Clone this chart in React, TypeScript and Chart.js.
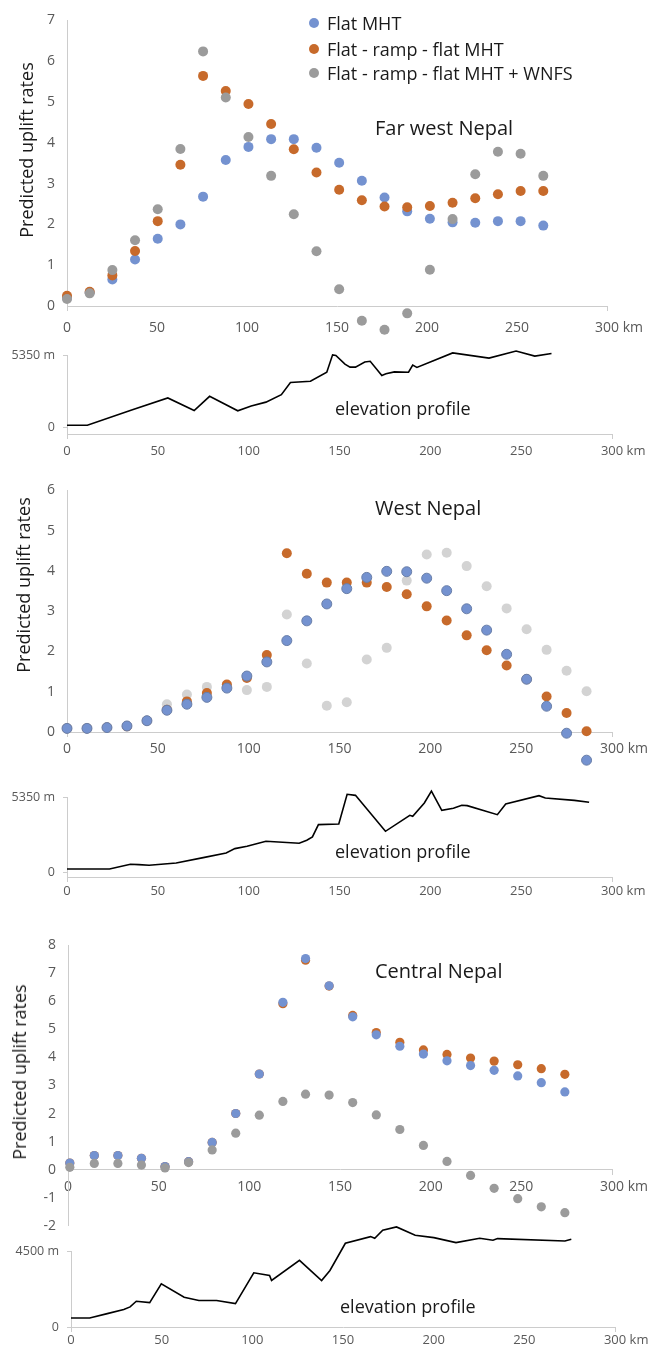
import React, { useEffect, useRef } from "react";
import { Chart, registerables } from "chart.js";

Chart.register(...registerables);

const FONT = "'Open Sans', 'Noto Sans', sans-serif";
Chart.defaults.font.family = FONT;

const BLUE = "#7492d0";
const ORANGE = "#c76a2b";
const GRAY = "#9b9b9b";
const LIGHT_GRAY = "#d3d3d3";
const AXIS = "#cccccc";
const TICK = "#595959";

const seriesNames = ["Flat MHT", "Flat - ramp - flat MHT", "Flat - ramp - flat MHT + WNFS"];

// ---------- Far west Nepal ----------
const farWestKm = [0, 12.6, 25.2, 37.8, 50.4, 63, 75.6, 88.2, 100.8, 113.4, 126, 138.6, 151.2, 163.8, 176.4, 189, 201.6, 214.2, 226.8, 239.4, 252, 264.6];
const farWestFlat = [0.2, 0.33, 0.65, 1.14, 1.65, 2.0, 2.68, 3.58, 3.9, 4.09, 4.09, 3.88, 3.51, 3.07, 2.66, 2.32, 2.14, 2.05, 2.04, 2.08, 2.08, 1.97];
const farWestRamp = [0.25, 0.35, 0.75, 1.35, 2.08, 3.46, 5.64, 5.27, 4.95, 4.46, 3.84, 3.27, 2.85, 2.59, 2.44, 2.42, 2.45, 2.53, 2.64, 2.74, 2.82, 2.82];
const farWestWnfs = [0.17, 0.31, 0.88, 1.61, 2.37, 3.85, 6.24, 5.11, 4.14, 3.19, 2.25, 1.34, 0.41, -0.36, -0.58, -0.18, 0.89, 2.13, 3.23, 3.78, 3.73, 3.19];
const farWestElevKm = [0, 11.2, 36, 55.5, 70, 78.5, 94, 101.4, 109.5, 118, 123, 134, 143, 146.2, 148, 153, 155.8, 158.8, 163.9, 166.9, 173.3, 175.6, 180.2, 188, 190.3, 192.6, 212.3, 232.3, 247.2, 257.5, 266.7];
const farWestElevM = [167, 167, 1314, 2197, 1266, 2317, 1242, 1600, 1887, 2436, 3344, 3439, 4108, 5398, 5350, 4705, 4490, 4490, 4872, 4920, 3869, 3989, 4132, 4108, 4633, 4466, 5541, 5159, 5684, 5302, 5493];

// ---------- West Nepal ----------
const westKm = [0, 11, 22, 33, 44, 55, 66, 77, 88, 99, 110, 121, 132, 143, 154, 165, 176, 187, 198, 209, 220, 231, 242, 253, 264, 275, 286];
const westFlat = [0.09, 0.09, 0.11, 0.15, 0.28, 0.54, 0.69, 0.86, 1.09, 1.39, 1.74, 2.27, 2.76, 3.18, 3.56, 3.84, 3.99, 3.98, 3.82, 3.51, 3.06, 2.53, 1.93, 1.31, 0.64, -0.03, -0.7];
const westRamp = [0.09, 0.09, 0.11, 0.14, 0.28, 0.55, 0.76, 0.97, 1.18, 1.34, 1.91, 4.44, 3.93, 3.71, 3.71, 3.71, 3.6, 3.42, 3.12, 2.77, 2.4, 2.03, 1.65, 1.31, 0.88, 0.47, 0.02];
const westWnfs = [0.09, 0.09, 0.11, 0.14, 0.28, 0.69, 0.93, 1.12, 1.17, 1.04, 1.12, 2.92, 1.7, 0.65, 0.74, 1.8, 2.09, 3.76, 4.41, 4.45, 4.12, 3.62, 3.07, 2.55, 2.04, 1.52, 1.01];
const westElevKm = [0, 23.4, 34.9, 39.5, 45.2, 60.1, 75, 87.6, 92.4, 99.1, 109.5, 127.8, 132, 135.1, 138.4, 149.6, 154.2, 158.8, 175.3, 188.7, 190.3, 196.7, 200.6, 206.3, 212.7, 217.3, 220.3, 236.9, 241.5, 259.8, 263.3, 279.3, 287.4];
const westElevM = [259, 259, 589, 566, 518, 683, 1061, 1391, 1697, 1862, 2215, 2074, 2286, 2522, 3394, 3441, 5539, 5468, 2922, 4054, 3983, 4926, 5774, 4407, 4549, 4761, 4737, 4101, 4855, 5444, 5279, 5114, 4973];

// ---------- Central Nepal ----------
const centralKm = [1, 14.5, 27.5, 40.5, 53.5, 66.5, 79.5, 92.5, 105.5, 118.5, 131, 144, 157, 170, 183, 196, 209, 222, 235, 248, 261, 274];
const centralFlat = [0.23, 0.5, 0.5, 0.4, 0.11, 0.28, 0.97, 2.0, 3.41, 5.97, 7.53, 6.56, 5.45, 4.81, 4.4, 4.12, 3.88, 3.71, 3.54, 3.34, 3.1, 2.77];
const centralRamp = [0.23, 0.5, 0.5, 0.4, 0.11, 0.28, 0.97, 2.0, 3.41, 5.92, 7.47, 6.55, 5.5, 4.89, 4.54, 4.27, 4.11, 3.98, 3.87, 3.74, 3.6, 3.4];
const centralWnfs = [0.08, 0.22, 0.22, 0.16, 0.06, 0.25, 0.7, 1.3, 1.94, 2.43, 2.69, 2.66, 2.39, 1.95, 1.43, 0.86, 0.29, -0.21, -0.67, -1.04, -1.33, -1.54];
const centralElevKm = [0, 10.3, 20, 29.1, 32.6, 36, 43.4, 49.8, 62.4, 70.5, 80.3, 90.7, 100.8, 109.5, 110.6, 126, 138.2, 142.8, 151.3, 165.2, 167.5, 171.9, 179.5, 189.8, 200.1, 212.3, 225.4, 232.7, 235.2, 272.4, 275.9];
const centralElevM = [535, 535, 793, 1031, 1189, 1526, 1447, 2557, 1764, 1566, 1566, 1388, 3211, 3053, 2755, 3945, 2755, 3350, 4956, 5352, 5253, 5729, 5927, 5432, 5293, 4996, 5253, 5134, 5233, 5095, 5194];

const xTickValues = [0, 50, 100, 150, 200, 250, 300];
const xLastLabel = "300 km";

const pts = (xs: number[], ys: number[]) => xs.map((x, i) => ({ x, y: ys[i] }));

const xTickCallback = (v: any) =>
  v === 300 ? "\u2007\u2007\u2007" + xLastLabel : xTickValues.includes(v) ? String(v) : "";

const endTickColor = (ctx: any) =>
  ctx.tick && (ctx.tick.value === 0 || ctx.tick.value === 300) ? AXIS : "rgba(0,0,0,0)";

// Lets markers that fall outside the plotting area (negative rates) still be drawn,
// as in the original figure.
const drawOutsidePoints = {
  id: "drawOutsidePoints",
  beforeDatasetsDraw(chart: any) {
    chart.$savedArea = chart.chartArea;
    chart.chartArea = { left: 0, top: 0, right: chart.width, bottom: chart.height, width: chart.width, height: chart.height };
  },
  afterDatasetsDraw(chart: any) {
    if (chart.$savedArea) chart.chartArea = chart.$savedArea;
  },
};

type ScatterOpts = {
  km: number[];
  series: { data: number[]; color: string; order: number; border?: string }[];
  yMin: number;
  yMax: number;
  leftW: number;
  rightPad: number;
  topPad: number;
  bottomPad: number;
  xAxisH: number;
  xAt0?: boolean;
  labelPad: number;
  radius: number;
};

function scatterConfig(o: ScatterOpts): any {
  return {
    type: "scatter",
    data: {
      datasets: o.series.map((s, i) => ({
        label: seriesNames[i],
        data: pts(o.km, s.data),
        backgroundColor: s.color,
        borderColor: s.border || s.color,
        borderWidth: s.border ? 1 : 0,
        pointRadius: o.radius,
        pointHoverRadius: o.radius,
        order: s.order,
        clip: false,
      })),
    },
    plugins: [drawOutsidePoints],
    options: {
      responsive: false,
      animation: false,
      devicePixelRatio: 1,
      layout: { padding: { left: 0, right: o.rightPad, top: o.topPad, bottom: o.bottomPad } },
      plugins: { legend: { display: false }, tooltip: { enabled: false } },
      scales: {
        x: {
          type: "linear",
          min: 0,
          max: 300,
          position: o.xAt0 ? { y: 0 } : "bottom",
          afterFit: (s: any) => {
            s.height = o.xAt0 ? 0 : o.xAxisH;
          },
          ticks: {
            stepSize: 50,
            autoSkip: false,
            maxRotation: 0,
            padding: o.labelPad,
            color: TICK,
            font: { size: 14, family: FONT },
            callback: xTickCallback,
          },
          grid: { display: true, drawOnChartArea: false, drawTicks: true, tickLength: 5, color: endTickColor },
          border: { display: true, color: AXIS, width: 1 },
        },
        y: {
          min: o.yMin,
          max: o.yMax,
          afterFit: (s: any) => {
            s.width = o.leftW;
          },
          ticks: { stepSize: 1, padding: 12, color: TICK, font: { size: 14, family: FONT } },
          grid: { display: true, drawOnChartArea: false, drawTicks: false },
          border: { display: true, color: AXIS, width: 1 },
        },
      },
    },
  };
}

type ElevOpts = {
  km: number[];
  m: number[];
  topVal: number;
  yMin: number;
  leftW: number;
  rightPad: number;
  topPad: number;
  xAxisH: number;
  labelPad: number;
};

function elevConfig(o: ElevOpts): any {
  return {
    type: "scatter",
    data: {
      datasets: [
        {
          label: "elevation profile",
          data: pts(o.km, o.m),
          showLine: true,
          borderColor: "#000000",
          backgroundColor: "#000000",
          borderWidth: 1.6,
          pointRadius: 0,
          pointHoverRadius: 0,
          tension: 0,
          clip: false,
        },
      ],
    },
    options: {
      responsive: false,
      animation: false,
      devicePixelRatio: 1,
      layout: { padding: { left: 0, right: o.rightPad, top: o.topPad, bottom: 0 } },
      plugins: { legend: { display: false }, tooltip: { enabled: false } },
      scales: {
        x: {
          type: "linear",
          min: 0,
          max: 300,
          afterFit: (s: any) => {
            s.height = o.xAxisH;
          },
          ticks: {
            stepSize: 50,
            autoSkip: false,
            maxRotation: 0,
            padding: o.labelPad,
            color: TICK,
            font: { size: 13, family: FONT },
            callback: xTickCallback,
          },
          grid: { display: true, drawOnChartArea: false, drawTicks: true, tickLength: 5, color: endTickColor },
          border: { display: true, color: AXIS, width: 1 },
        },
        y: {
          min: o.yMin,
          max: o.topVal,
          afterFit: (s: any) => {
            s.width = o.leftW;
          },
          afterBuildTicks: (s: any) => {
            s.ticks = [{ value: 0 }, { value: o.topVal }];
          },
          ticks: {
            padding: 8,
            color: TICK,
            font: { size: 12.5, family: FONT },
            callback: (v: any) => (v === 0 ? "0" : `${v} m`),
          },
          grid: { display: true, drawOnChartArea: false, drawTicks: true, tickLength: 4, color: AXIS },
          border: { display: true, color: AXIS, width: 1 },
        },
      },
    },
  };
}

function ChartCanvas({ top, height, config }: { top: number; height: number; config: () => any }) {
  const ref = useRef<HTMLCanvasElement>(null);
  useEffect(() => {
    if (!ref.current) return;
    const chart = new Chart(ref.current, config());
    return () => chart.destroy();
  }, []);
  return (
    <canvas
      ref={ref}
      width={652}
      height={height}
      style={{ position: "absolute", left: 0, top, width: 652, height, display: "block" }}
    />
  );
}

const textBase: React.CSSProperties = {
  position: "absolute",
  fontFamily: FONT,
  whiteSpace: "nowrap",
  lineHeight: 1,
  color: "#1a1a1a",
};

function Label({ left, cy, size, children }: { left: number; cy: number; size: number; children: React.ReactNode }) {
  return (
    <div style={{ ...textBase, left, top: cy, fontSize: size, transform: "translateY(-50%)" }}>{children}</div>
  );
}

function YTitle({ cx, cy }: { cx: number; cy: number }) {
  return (
    <div
      style={{
        ...textBase,
        left: cx,
        top: cy,
        fontSize: 18,
        transform: "translate(-50%, -50%) rotate(-90deg)",
      }}
    >
      Predicted uplift rates
    </div>
  );
}

function LegendRow({ cy, color, text }: { cy: number; color: string; text: string }) {
  return (
    <>
      <div
        style={{
          position: "absolute",
          left: 309,
          top: cy - 5,
          width: 10,
          height: 10,
          borderRadius: 5,
          background: color,
        }}
      />
      <Label left={327} cy={cy} size={18}>
        {text}
      </Label>
    </>
  );
}

export default function App() {
  return (
    <div style={{ position: "absolute", left: 0, top: 0, width: 652, height: 1356, overflow: "hidden", background: "#fff" }}>
      <ChartCanvas
        top={0}
        height={340}
        config={() =>
          scatterConfig({
            km: farWestKm,
            series: [
              { data: farWestFlat, color: BLUE, order: 2 },
              { data: farWestRamp, color: ORANGE, order: 1 },
              { data: farWestWnfs, color: GRAY, order: 0 },
            ],
            yMin: 0,
            yMax: 7,
            leftW: 67,
            rightPad: 42,
            topPad: 18,
            bottomPad: 0,
            xAxisH: 34,
            labelPad: 9,
            radius: 5,
          })
        }
      />
      <ChartCanvas
        top={340}
        height={120}
        config={() =>
          elevConfig({
            km: farWestElevKm,
            m: farWestElevM,
            topVal: 5350,
            yMin: -480,
            leftW: 67,
            rightPad: 40,
            topPad: 13,
            xAxisH: 26,
            labelPad: 4,
          })
        }
      />
      <ChartCanvas
        top={470}
        height={300}
        config={() =>
          scatterConfig({
            km: westKm,
            series: [
              { data: westFlat, color: BLUE, order: 0, border: "#6a7fa8" },
              { data: westRamp, color: ORANGE, order: 1 },
              { data: westWnfs, color: LIGHT_GRAY, order: 2 },
            ],
            yMin: 0,
            yMax: 6,
            leftW: 67,
            rightPad: 40,
            topPad: 12,
            bottomPad: 0,
            xAxisH: 38,
            labelPad: 4,
            radius: 5,
          })
        }
      />
      <ChartCanvas
        top={780}
        height={120}
        config={() =>
          elevConfig({
            km: westElevKm,
            m: westElevM,
            topVal: 5350,
            yMin: -311,
            leftW: 67,
            rightPad: 40,
            topPad: 17,
            xAxisH: 23,
            labelPad: 1,
          })
        }
      />
      <ChartCanvas
        top={925}
        height={321}
        config={() =>
          scatterConfig({
            km: centralKm,
            series: [
              { data: centralFlat, color: BLUE, order: 1 },
              { data: centralRamp, color: ORANGE, order: 2 },
              { data: centralWnfs, color: GRAY, order: 0 },
            ],
            yMin: -2,
            yMax: 8,
            leftW: 68,
            rightPad: 37,
            topPad: 12,
            bottomPad: 6,
            xAxisH: 0,
            xAt0: true,
            labelPad: 4,
            radius: 4.6,
          })
        }
      />
      <ChartCanvas
        top={1226}
        height={130}
        config={() =>
          elevConfig({
            km: centralElevKm,
            m: centralElevM,
            topVal: 4500,
            yMin: 0,
            leftW: 71,
            rightPad: 37,
            topPad: 25,
            xAxisH: 29,
            labelPad: 0,
          })
        }
      />

      <YTitle cx={25.5} cy={150} />
      <YTitle cx={22.5} cy={585} />
      <YTitle cx={18.5} cy={1072} />

      <LegendRow cy={23} color={BLUE} text={seriesNames[0]} />
      <LegendRow cy={49} color={ORANGE} text={seriesNames[1]} />
      <LegendRow cy={73} color={GRAY} text={seriesNames[2]} />

      <Label left={375} cy={128} size={20}>Far west Nepal</Label>
      <Label left={375} cy={508} size={20}>West Nepal</Label>
      <Label left={375} cy={971} size={20}>Central Nepal</Label>

      <Label left={335} cy={408} size={18}>elevation profile</Label>
      <Label left={335} cy={851} size={18}>elevation profile</Label>
      <Label left={340} cy={1306} size={18}>elevation profile</Label>
    </div>
  );
}
